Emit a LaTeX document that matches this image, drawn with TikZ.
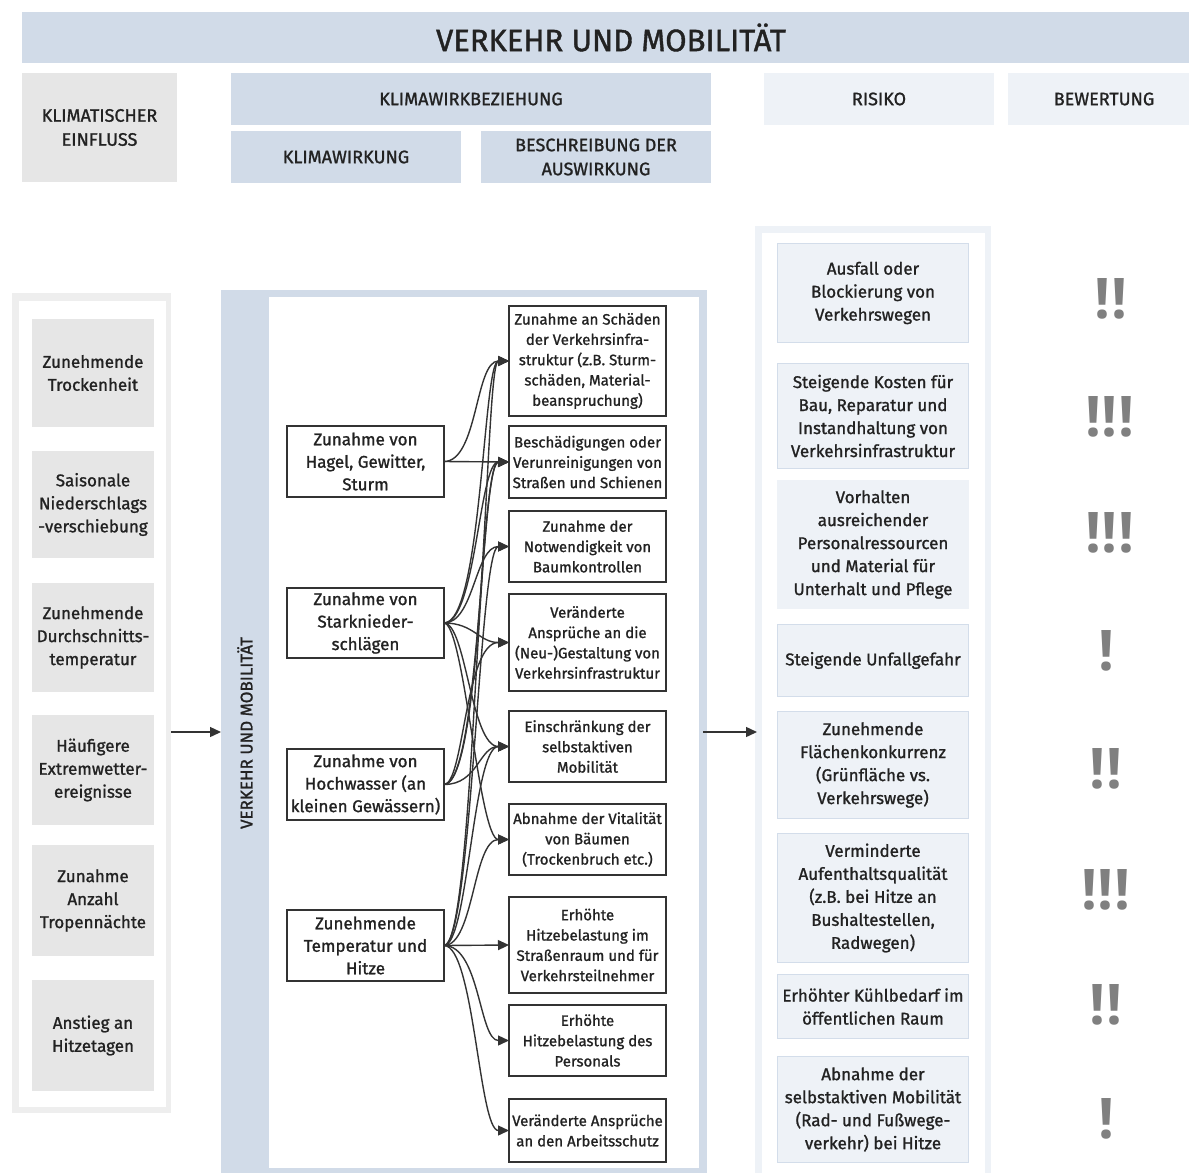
\documentclass[tikz,border=0pt]{standalone}
\usepackage{fontspec}
\setmainfont{Fira Sans}[UprightFeatures={FakeBold=1.2}]
\newfontfamily\bangfont{Open Sans}
\usetikzlibrary{arrows.meta}

\definecolor{bandblue}{HTML}{D1DBE8}
\definecolor{headgray}{HTML}{E6E6E6}
\definecolor{paleblue}{HTML}{EEF2F7}
\definecolor{paleedge}{HTML}{D3DDEA}
\definecolor{framegray}{HTML}{EEEEEE}
\definecolor{ink}{HTML}{222222}
\definecolor{linegray}{HTML}{333333}
\definecolor{banggray}{HTML}{808080}

\tikzset{
  box/.style={inner sep=0pt, outer sep=0pt, align=center, text=ink},
  headbox/.style={box, fill=bandblue, font=\fontsize{18}{24}\selectfont},
  headpale/.style={box, fill=paleblue, font=\fontsize{18}{24}\selectfont},
  causebox/.style={box, fill=headgray, minimum width=122pt, font=\fontsize{17}{23}\selectfont},
  effectbox/.style={box, draw=linegray, line width=2pt, minimum width=157pt, font=\fontsize{17}{22.5}\selectfont},
  descbox/.style={box, draw=linegray, line width=2pt, minimum width=157pt, font=\fontsize{15}{20.3}\selectfont},
  riskbox/.style={box, fill=paleblue, draw=paleedge, line width=1.5pt, minimum width=191pt, font=\fontsize{17}{23}\selectfont},
  riskplain/.style={box, fill=paleblue, minimum width=192pt, font=\fontsize{17}{23}\selectfont},
  bangs/.style={inner sep=0pt, anchor=base, text=banggray, font=\bangfont\bfseries\fontsize{56}{56}\selectfont},
  link/.style={draw=linegray, line width=1.4pt, -{Triangle[length=11pt,width=10pt]}},
  flow/.style={draw=linegray, line width=1.4pt, -{Triangle[length=11pt,width=10pt]}},
}

\begin{document}
\begin{tikzpicture}[x=1pt, y=-1pt]
\useasboundingbox (0,0) rectangle (1189,1173);
\fill[white] (0,0) rectangle (1189,1173);

% title band
\node[box, fill=bandblue, minimum width=1178pt, minimum height=51pt,
      font=\fontsize{31}{31}\selectfont] (title) at (611,37.5) {VERKEHR UND MOBILITÄT};

% column headers
\node[box, fill=headgray, minimum width=155pt, minimum height=109pt,
      font=\fontsize{18}{24}\selectfont] (hcause) at (99.5,127.5) {KLIMATISCHER\\EINFLUSS};
\node[headbox, minimum width=480pt, minimum height=52pt] (hrel) at (471,99) {KLIMAWIRKBEZIEHUNG};
\node[headbox, minimum width=230pt, minimum height=52pt] (heff) at (346,157) {KLIMAWIRKUNG};
\node[headbox, minimum width=230pt, minimum height=52pt] (hdesc) at (596,157) {BESCHREIBUNG DER\\AUSWIRKUNG};
\node[headpale, minimum width=230pt, minimum height=52pt] (hrisk) at (879,99) {RISIKO};
\node[headpale, minimum width=192pt, minimum height=52pt] (heval) at (1104,99) {BEWERTUNG};

% left frame with the climatic drivers
\node[box, fill=framegray, minimum width=159pt, minimum height=820pt] (causeframe) at (91.5,703) {};
\fill[white] (19,301) rectangle (166,1107);
\node[causebox, minimum height=108pt] (c1) at (93,373) {Zunehmende\\Trockenheit};
\node[causebox, minimum height=107pt] (c2) at (93,504.5) {Saisonale\\Niederschlags\\-verschiebung};
\node[causebox, minimum height=109pt] (c3) at (93,637.5) {Zunehmende\\Durchschnitts-\\temperatur};
\node[causebox, minimum height=110pt] (c4) at (93,770) {Häufigere\\Extremwetter-\\ereignisse};
\node[causebox, minimum height=111pt] (c5) at (93,900.5) {Zunahme\\Anzahl\\Tropennächte};
\node[causebox, minimum height=111pt] (c6) at (93,1035.5) {Anstieg an\\Hitzetagen};

% middle panel
\node[box, fill=bandblue, minimum width=486pt, minimum height=883pt] (effpanel) at (464,731.5) {};
\fill[white] (269,297) rectangle (699,1168);
\node[box, rotate=90, font=\fontsize{17}{17}\selectfont] (paneltitle) at (245,733) {VERKEHR UND MOBILITÄT};

% right frame with the risks
\node[box, fill=paleblue, minimum width=236pt, minimum height=947pt] (riskframe) at (873,699.5) {};
\fill[white] (762,233) rectangle (985,1173);

% links between the columns
\coordinate (arrowrow) at (0,732);
\draw[flow] (causeframe.east |- arrowrow) -- (effpanel.west |- arrowrow);
\draw[flow] ([xshift=-4pt]effpanel.east |- arrowrow) -- ([xshift=2pt]riskframe.west |- arrowrow);

% climate effects
\node[effectbox, minimum height=71pt] (e1) at (365.5,461.5) {Zunahme von\\Hagel, Gewitter,\\Sturm};
\node[effectbox, minimum height=70pt] (e2) at (365.5,623) {Zunahme von\\Starknieder-\\schlägen};
\node[effectbox, minimum height=71pt] (e3) at (365.5,784.5) {Zunahme von\\Hochwasser (an\\kleinen Gewässern)};
\node[effectbox, minimum height=71pt] (e4) at (365.5,945.5) {Zunehmende\\Temperatur und\\Hitze};

% described consequences
\node[descbox, minimum height=110pt] (d1) at (587.5,361) {Zunahme an Schäden\\der Verkehrsinfra-\\struktur (z.B. Sturm-\\schäden, Material-\\beanspruchung)};
\node[descbox, minimum height=72pt] (d2) at (587.5,462) {Beschädigungen oder\\Verunreinigungen von\\Straßen und Schienen};
\node[descbox, minimum height=71pt] (d3) at (587.5,546.5) {Zunahme der\\Notwendigkeit von\\Baumkontrollen};
\node[descbox, minimum height=97pt] (d4) at (587.5,642.5) {Veränderte\\Ansprüche an die\\(Neu-)Gestaltung von\\Verkehrsinfrastruktur};
\node[descbox, minimum height=71pt] (d5) at (587.5,746.5) {Einschränkung der\\selbstaktiven\\Mobilität};
\node[descbox, minimum height=71pt] (d6) at (587.5,839.5) {Abnahme der Vitalität\\von Bäumen\\(Trockenbruch etc.)};
\node[descbox, minimum height=96pt] (d7) at (587.5,945) {Erhöhte\\Hitzebelastung im\\Straßenraum und für\\Verkehrsteilnehmer};
\node[descbox, minimum height=71pt] (d8) at (587.5,1040.5) {Erhöhte\\Hitzebelastung des\\Personals};
\node[descbox, minimum height=63pt] (d9) at (587.5,1130.5) {Veränderte Ansprüche\\an den Arbeitsschutz};

% effect -> consequence links
\draw[link] (e1.east) .. controls +(34,0) and +(-34,0) .. (d1.west);
\draw[link] (e1.east) -- (d2.west);
\draw[link] (e2.east) .. controls +(38,0) and +(-26,0) .. (d1.west);
\draw[link] (e2.east) .. controls +(32,0) and +(-30,0) .. (d2.west);
\draw[link] (e2.east) .. controls +(30,0) and +(-34,0) .. (d3.west);
\draw[link] (e2.east) .. controls +(30,0) and +(-30,0) .. (d4.west);
\draw[link] (e2.east) .. controls +(22,0) and +(-38,0) .. (d5.west);
\draw[link] (e2.east) .. controls +(20,0) and +(-30,0) .. (d6.west);
\draw[link] (e3.east) .. controls +(42,0) and +(-24,0) .. (d1.west);
\draw[link] (e3.east) .. controls +(36,0) and +(-28,0) .. (d2.west);
\draw[link] (e3.east) .. controls +(20,0) and +(-44,0) .. (d4.west);
\draw[link] (e3.east) .. controls +(34,0) and +(-30,0) .. (d5.west);
\draw[link] (e4.east) .. controls +(30,0) and +(-32,0) .. (d2.west);
\draw[link] (e4.east) .. controls +(28,0) and +(-30,0) .. (d3.west);
\draw[link] (e4.east) .. controls +(24,0) and +(-36,0) .. (d5.west);
\draw[link] (e4.east) .. controls +(30,0) and +(-36,0) .. (d6.west);
\draw[link] (e4.east) -- (d7.west);
\draw[link] (e4.east) .. controls +(36,0) and +(-30,0) .. (d8.west);
\draw[link] (e4.east) .. controls +(30,0) and +(-30,0) .. (d9.west);

% risks
\node[riskbox, minimum height=99pt] (r1) at (873,293) {Ausfall oder\\Blockierung von\\Verkehrswegen};
\node[riskbox, minimum height=105pt] (r2) at (873,416) {Steigende Kosten für\\Bau, Reparatur und\\Instandhaltung von\\Verkehrsinfrastruktur};
\node[riskplain, minimum height=129pt] (r3) at (873,544.5) {Vorhalten\\ausreichender\\Personalressourcen\\und Material für\\Unterhalt und Pflege};
\node[riskbox, minimum height=72pt] (r4) at (873,660.5) {Steigende Unfallgefahr};
\node[riskbox, minimum height=107pt] (r5) at (873,765) {Zunehmende\\Flächenkonkurrenz\\(Grünfläche vs.\\Verkehrswege)};
\node[riskbox, minimum height=129pt] (r6) at (873,898) {Verminderte\\Aufenthaltsqualität\\(z.B. bei Hitze an\\Bushaltestellen,\\Radwegen)};
\node[riskbox, minimum height=64pt] (r7) at (873,1006.5) {Erhöhter Kühlbedarf im\\öffentlichen Raum};
\node[riskbox, minimum height=106pt] (r8) at (873,1109.5) {Abnahme der\\selbstaktiven Mobilität\\(Rad- und Fußwege-\\verkehr) bei Hitze};

% ratings
\node[bangs] (b1) at (1111,318) {!!};
\node[bangs] (b2) at (1110,436) {!!!};
\node[bangs] (b3) at (1110,552) {!!!};
\node[bangs] (b4) at (1106,670) {!};
\node[bangs] (b5) at (1106,788) {!!};
\node[bangs] (b6) at (1106,909) {!!!};
\node[bangs] (b7) at (1106,1024) {!!};
\node[bangs] (b8) at (1106,1138) {!};
\end{tikzpicture}
\end{document}
